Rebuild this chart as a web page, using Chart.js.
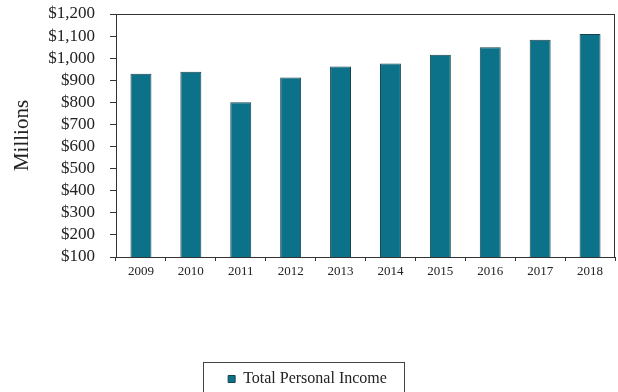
<!DOCTYPE html>
<html>
<head>
<meta charset="utf-8">
<style>
  html, body { margin: 0; padding: 0; background: #ffffff; }
  #wrap { width: 618px; height: 392px; position: relative; }
</style>
<script src="https://cdn.jsdelivr.net/npm/chart.js@4/dist/chart.umd.min.js"></script>
</head>
<body>
<div id="wrap"><canvas id="chart" width="618" height="392"></canvas></div>
<script>
// Total personal income, millions of dollars
const years = ['2009', '2010', '2011', '2012', '2013', '2014', '2015', '2016', '2017', '2018'];
const totalPersonalIncome = [930, 939, 800, 912, 962, 976, 1015, 1049, 1083, 1109];
const seriesName = 'Total Personal Income';
const yTitle = 'Millions';

const SERIF = '"Liberation Serif", "Times New Roman", serif';

// Thin frame around the plot (top and right edges close the box)
const plotFrame = {
  id: 'plotFrame',
  afterDatasetsDraw(chart) {
    const { ctx, chartArea: a } = chart;
    ctx.save();
    ctx.strokeStyle = '#333';
    ctx.lineWidth = 1;
    ctx.strokeRect(a.left + 0.5, a.top + 0.5, a.right - a.left - 1, a.bottom - a.top);
    ctx.restore();
  }
};

// Rectangle around the legend entry
const legendFrame = {
  id: 'legendFrame',
  afterDraw(chart) {
    const lg = chart.legend;
    if (!lg || !lg.legendHitBoxes || !lg.legendHitBoxes.length) return;
    const hb = lg.legendHitBoxes[0];
    const { ctx } = chart;
    ctx.save();
    ctx.strokeStyle = '#444';
    ctx.lineWidth = 1;
    const x0 = Math.round(hb.left - 25) + 0.5;
    const x1 = Math.round(hb.left + hb.width + 17) + 0.5;
    const y0 = Math.round(hb.top + hb.height / 2 - 17) + 0.5;
    ctx.strokeRect(x0, y0, x1 - x0, 60);
    ctx.restore();
  }
};

new Chart(document.getElementById('chart'), {
  type: 'bar',
  data: {
    labels: years,
    datasets: [{
      label: seriesName,
      data: totalPersonalIncome,
      backgroundColor: '#0c7289',
      borderColor: '#17434d',
      borderWidth: 1,
      barPercentage: 0.42,
      categoryPercentage: 1.0
    }]
  },
  options: {
    responsive: false,
    animation: false,
    layout: { padding: { top: 14, right: 3, left: 0, bottom: -5 } },
    plugins: {
      legend: {
        position: 'bottom',
        labels: {
          font: { family: SERIF, size: 16 },
          color: '#222',
          boxWidth: 7,
          boxHeight: 7,
          padding: 3
        }
      },
      tooltip: { enabled: false }
    },
    scales: {
      x: {
        grid: { display: true, drawOnChartArea: false, drawTicks: true, tickLength: 4, color: '#333', offset: true },
        border: { display: true, color: '#222', width: 1 },
        ticks: { font: { family: SERIF, size: 13 }, color: '#222', padding: 3, autoSkip: false, maxRotation: 0 },
        afterFit(scale) { scale.height = 111; }
      },
      y: {
        min: 100,
        max: 1200,
        ticks: {
          stepSize: 100,
          autoSkip: false,
          font: { family: SERIF, size: 17 },
          color: '#222',
          padding: 15,
          callback: v => '$' + v.toLocaleString('en-US')
        },
        grid: { display: true, drawOnChartArea: false, drawTicks: true, tickLength: 6, color: '#333' },
        border: { display: true, color: '#222', width: 1 },
        title: { display: true, text: yTitle, font: { family: SERIF, size: 21 }, color: '#222', padding: { top: 10, bottom: 0 } },
        afterFit(scale) {
          scale.width = 116;
          scale.paddingTop = 0;
          scale.paddingBottom = 0;
        }
      }
    }
  },
  plugins: [plotFrame, legendFrame]
});
</script>
</body>
</html>
